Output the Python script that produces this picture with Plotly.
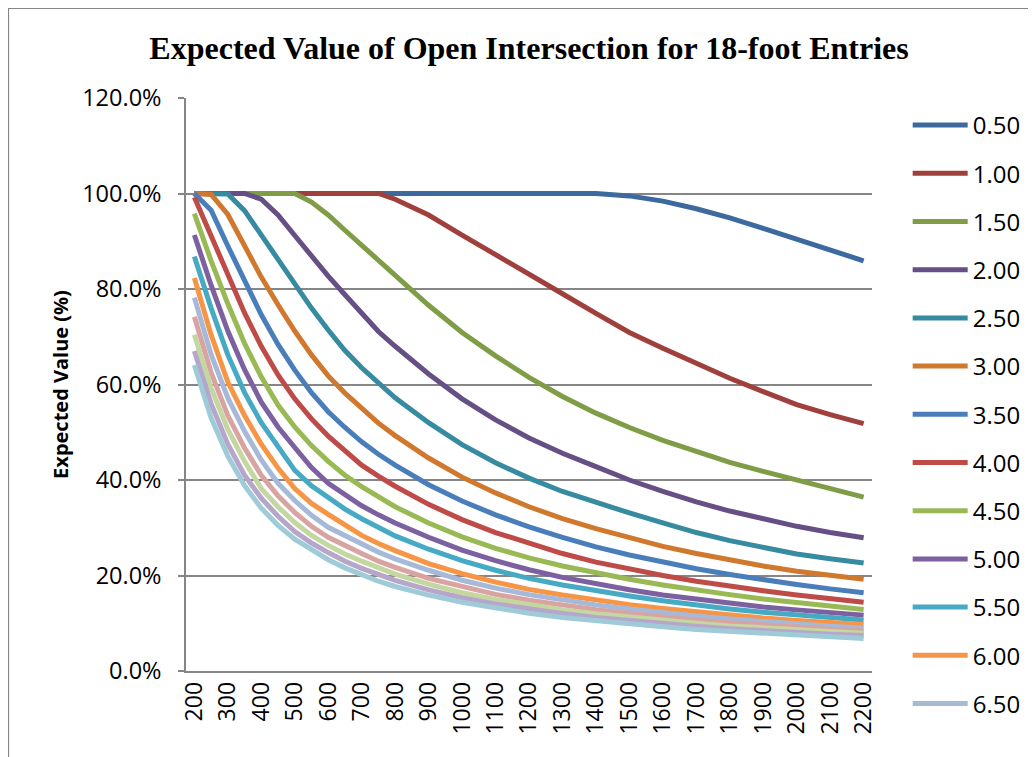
import plotly.graph_objects as go

# ---------------- data ----------------
entry_length = [200, 250, 300, 350, 400, 450, 500, 550, 600, 650, 700, 750, 800,
                900, 1000, 1100, 1200, 1300, 1400, 1500, 1600, 1700, 1800, 1900, 2000, 2100, 2200]
x_ticks = list(range(200, 2201, 100))
y_ticks = [0, 20, 40, 60, 80, 100, 120]
y_tick_labels = ["0.0%", "20.0%", "40.0%", "60.0%", "80.0%", "100.0%", "120.0%"]

series_names = ["0.50", "1.00", "1.50", "2.00", "2.50", "3.00", "3.50", "4.00", "4.50",
                "5.00", "5.50", "6.00", "6.50", "7.00", "7.50", "8.00", "8.50"]

v050 = [100, 100, 100, 100, 100, 100, 100, 100, 100, 100, 100, 100, 100,
        100, 100, 100, 100, 100, 100, 99.5, 98.4, 96.8, 94.9, 92.7, 90.4, 88.2, 85.9]
v100 = [100, 100, 100, 100, 100, 100, 100, 100, 100, 100, 100, 100, 98.8,
        95.5, 91.3, 87.1, 83.0, 79.0, 74.9, 70.9, 67.6, 64.4, 61.3, 58.5, 55.8, 53.7, 51.8]
v150 = [100, 100, 100, 100, 100, 100, 100, 98.2, 95.5, 92.3, 89.1, 85.9, 82.7,
        76.6, 70.9, 66.0, 61.5, 57.5, 54.0, 51.0, 48.3, 45.9, 43.7, 41.8, 40.0, 38.3, 36.4]
v200 = [100, 100, 100, 100, 98.8, 95.5, 91.2, 86.8, 82.7, 78.8, 74.9, 71.1, 68.0,
        62.2, 57.0, 52.6, 48.8, 45.6, 42.8, 40.0, 37.6, 35.4, 33.5, 31.8, 30.3, 29.0, 27.9]
v250 = [100, 100, 99.9, 96.4, 91.3, 85.9, 80.8, 76.0, 71.4, 67.1, 63.5, 60.2, 57.2,
        52.0, 47.4, 43.6, 40.4, 37.6, 35.3, 33.1, 31.0, 29.0, 27.3, 25.8, 24.5, 23.5, 22.6]
v300 = [100, 99.8, 95.6, 89.0, 82.5, 76.7, 71.2, 66.2, 61.8, 58.2, 54.9, 51.9, 49.3,
        44.6, 40.6, 37.3, 34.4, 31.9, 29.8, 27.9, 26.1, 24.6, 23.2, 22.0, 20.9, 20.0, 19.2]
v350 = [100, 96.5, 89.0, 81.5, 74.6, 68.4, 63.0, 58.3, 54.3, 51.0, 48.0, 45.4, 43.1,
        39.0, 35.6, 32.7, 30.2, 28.0, 26.0, 24.3, 22.8, 21.4, 20.2, 19.1, 18.1, 17.2, 16.4]
v400 = [99.2, 91.2, 82.8, 75.0, 68.0, 62.0, 57.0, 52.8, 49.2, 46.0, 43.1, 40.8, 38.7,
        34.9, 31.7, 29.0, 26.7, 24.6, 22.8, 21.3, 20.0, 18.8, 17.7, 16.8, 15.9, 15.1, 14.4]
v450 = [95.8, 85.9, 76.9, 68.6, 61.6, 55.7, 51.1, 47.2, 43.9, 41.0, 38.6, 36.4, 34.4,
        31.0, 28.1, 25.7, 23.7, 22.0, 20.5, 19.2, 18.0, 16.9, 16.0, 15.1, 14.3, 13.6, 12.9]
v500 = [91.3, 80.8, 71.2, 63.1, 56.3, 51.1, 46.8, 42.6, 39.3, 36.8, 34.6, 32.7, 31.0,
        28.0, 25.3, 23.1, 21.2, 19.6, 18.2, 17.0, 15.9, 15.0, 14.2, 13.4, 12.8, 12.2, 11.7]
v550 = [86.8, 76.0, 66.2, 58.3, 52.0, 47.0, 42.0, 38.8, 36.2, 33.9, 31.9, 30.0, 28.3,
        25.5, 23.1, 21.1, 19.4, 18.0, 16.8, 15.7, 14.7, 13.8, 13.0, 12.3, 11.7, 11.2, 10.7]
v600 = [82.3, 70.4, 60.5, 53.5, 47.5, 42.5, 38.2, 35.1, 32.8, 30.5, 28.4, 26.7, 25.2,
        22.5, 20.4, 18.6, 17.1, 15.9, 14.8, 13.9, 13.1, 12.35, 11.7, 11.1, 10.6, 10.1, 9.75]
v650 = [78.2, 66.3, 57.2, 50.2, 44.2, 39.3, 35.7, 32.6, 30.1, 28.3, 26.5, 24.9, 23.5,
        21.1, 19.0, 17.35, 16.0, 14.85, 13.85, 13.0, 12.2, 11.5, 10.9, 10.35, 9.85, 9.4, 9.0]
v700 = [74.2, 62.5, 53.5, 46.7, 41.0, 36.7, 33.2, 30.3, 28.0, 26.2, 24.6, 23.0, 21.7,
        19.4, 17.6, 16.05, 14.8, 13.75, 12.85, 12.05, 11.3, 10.65, 10.1, 9.6, 9.15, 8.75, 8.4]
v750 = [70.4, 59.3, 50.6, 43.9, 38.2, 34.4, 31.1, 28.4, 26.3, 24.5, 23.0, 21.6, 20.3,
        18.2, 16.4, 15.0, 13.85, 12.85, 12.0, 11.25, 10.6, 10.0, 9.45, 9.0, 8.6, 8.25, 7.9]
v800 = [67.0, 56.0, 47.5, 41.0, 36.2, 32.4, 29.2, 26.8, 24.8, 23.0, 21.5, 20.2, 19.0,
        17.0, 15.35, 14.05, 12.95, 12.05, 11.2, 10.5, 9.9, 9.35, 8.85, 8.4, 8.0, 7.7, 7.45]
v850 = [64.1, 53.0, 45.0, 38.8, 34.1, 30.5, 27.6, 25.3, 23.3, 21.6, 20.1, 18.8, 17.7,
        15.9, 14.4, 13.2, 12.1, 11.2, 10.5, 9.8, 9.25, 8.7, 8.3, 7.85, 7.5, 7.15, 6.8]

series_values = [v050, v100, v150, v200, v250, v300, v350, v400, v450,
                 v500, v550, v600, v650, v700, v750, v800, v850]

colors = ["#3C6A9E", "#A0403D", "#7F9C47", "#654F85", "#378BA0", "#D0792E",
          "#4A7EBB", "#BE4B48", "#98B954", "#7D60A0", "#46AAC5", "#F69546",
          "#A7B9D8", "#D9A3A2", "#C4D7A0", "#B6A7CA", "#9FCAD8"]

legend_count = 13  # the legend box only fits the first 13 entries

# ---------------- figure ----------------
fig = go.Figure()
for i, (name, vals) in enumerate(zip(series_names, series_values)):
    fig.add_trace(go.Scatter(
        x=entry_length, y=vals, name=name, mode="lines",
        line=dict(color=colors[i], width=5),
        legendgroup=name, showlegend=i < legend_count,
    ))

grid = "#868686"
W, H = 1036, 757
ML, MT, PW, PH = 178, 90, 686, 573
fig.update_layout(
    width=W, height=H,
    margin=dict(l=ML, r=W - ML - PW, t=MT, b=H - MT - PH),
    paper_bgcolor="white", plot_bgcolor="white",
    title=dict(
        text="<b>Expected Value of Open Intersection for 18-foot Entries</b>",
        font=dict(family="Liberation Serif", size=32, color="black"),
        x=0.5, xref="paper", xanchor="center",
        y=1 - 40 / H, yref="container", yanchor="middle",
    ),
    showlegend=True,
    legend=dict(
        x=1.052, xanchor="left", y=(PH - 5) / PH, yanchor="top",
        maxheight=700,
        font=dict(family="Open Sans", size=24, color="black"),
        tracegroupgap=14, itemwidth=55,
        bgcolor="rgba(0,0,0,0)",
    ),
    xaxis=dict(
        range=[175, 2225], tickmode="array", tickvals=x_ticks,
        ticktext=[str(v) for v in x_ticks], tickangle=-90,
        tickfont=dict(family="Open Sans", size=23, color="black"),
        showgrid=False, zeroline=False,
        showline=True, linecolor=grid, linewidth=1.5,
        ticks="",
    ),
    yaxis=dict(
        range=[0, 120], tickmode="array", tickvals=y_ticks, ticktext=y_tick_labels,
        tickfont=dict(family="Open Sans", size=23.5, color="black"),
        showgrid=True, gridcolor=grid, gridwidth=1.5, zeroline=False,
        showline=True, linecolor=grid, linewidth=1.5,
        ticks="outside", ticklen=6, tickcolor=grid, tickwidth=1.5,
        ticklabelstandoff=12,
        title=dict(text="<b>Expected Value (%)</b>",
                   font=dict(family="Open Sans", size=20, color="black"),
                   standoff=8),
    ),
)

# outer chart-area border
fig.add_shape(type="rect", xref="paper", yref="paper",
              x0=(0.5 - ML) / PW, x1=(1021 - ML) / PW,
              y0=(MT + PH - 800) / PH, y1=(MT + PH - 0.5) / PH,
              line=dict(color=grid, width=1.2), fillcolor="rgba(0,0,0,0)", layer="below")

fig.write_html("out.html")
